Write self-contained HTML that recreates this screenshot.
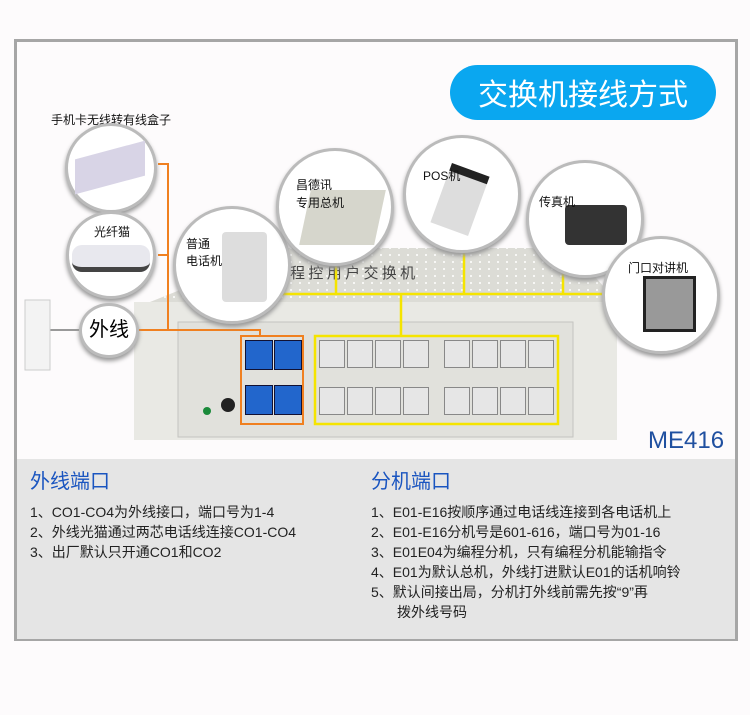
<!DOCTYPE html>
<html><head><meta charset="utf-8"><style>
body{margin:0;width:750px;height:715px;background:#fdfbfc;position:relative;overflow:hidden;font-family:"Liberation Sans","Noto Sans CJK SC",sans-serif}
.a{position:absolute}
.c{position:absolute;border-radius:50%;background:#fff;border:3px solid #bbb;box-shadow:0 3px 4px #999;box-sizing:border-box}
.t{position:absolute;font-size:12px;color:#111;white-space:nowrap;line-height:16px}
.jack{position:absolute;width:26px;height:28px;background:#e6e6e6;border:1px solid #888;box-sizing:border-box}
.bj{position:absolute;width:28px;height:30px;background:#2266cc;border:1px solid #113;box-sizing:border-box}
.li{position:absolute;font-size:14px;color:#222;white-space:nowrap}
</style></head><body>
<div class="a" style="left:14px;top:39px;width:724px;height:602px;border:3px solid #a6a6a6;box-sizing:border-box"></div>
<div class="a" style="left:17px;top:459px;width:718px;height:180px;background:#e5e5e5"></div>
<div class="a" style="left:450px;top:65px;width:266px;height:55px;border-radius:28px;background:#0aa7f0;color:#fff;font-size:30px;line-height:55px;text-align:center;font-family:'Noto Sans CJK SC',sans-serif">交换机接线方式</div>
<div class="t" style="left:51px;top:112px">手机卡无线转有线盒子</div>
<!-- device -->
<svg class="a" style="left:0;top:0" width="750" height="460">
<defs><pattern id="d" width="9" height="7" patternUnits="userSpaceOnUse"><circle cx="3" cy="3" r="1" fill="#fff"/></pattern></defs>
<polygon points="150,302 285,248 570,248 617,302" fill="#dcdcd6"/>
<polygon points="150,302 285,248 570,248 617,302" fill="url(#d)"/>
<rect x="134" y="302" width="483" height="138" fill="#e9e9e4"/>
<rect x="178" y="322" width="395" height="115" fill="#e1e1dc" stroke="#c4c4c0"/>
<text x="290" y="278" font-size="15" fill="#444" font-family="Noto Sans CJK SC">程 控 用 户 交 换 机</text>
<circle cx="207" cy="411" r="4" fill="#1a8a3a"/><circle cx="228" cy="405" r="7" fill="#222"/>
<rect x="241" y="336" width="62" height="88" fill="none" stroke="#f08020" stroke-width="2"/>
<rect x="315" y="336" width="243" height="88" fill="none" stroke="#f5e400" stroke-width="2.5"/>
<g stroke="#f08020" stroke-width="2" fill="none">
<polyline points="158,164 168,164 168,330"/><line x1="158" y1="255" x2="168" y2="255"/>
<polyline points="139,330 260,330 260,336"/></g>
<g stroke="#f5e400" stroke-width="2.5" fill="none">
<line x1="275" y1="294" x2="603" y2="294"/><line x1="336" y1="250" x2="336" y2="294"/>
<line x1="464" y1="238" x2="464" y2="294"/><line x1="563" y1="260" x2="563" y2="294"/>
<line x1="401" y1="294" x2="401" y2="336"/></g>
<line x1="50" y1="330" x2="80" y2="330" stroke="#999" stroke-width="2"/>
<rect x="25" y="300" width="25" height="70" fill="#f3f3f3" stroke="#ccc"/>
<text x="648" y="448" font-size="24" fill="#2050a0">ME416</text>
</svg>
<div class="bj" style="left:245px;top:340px"></div><div class="bj" style="left:274px;top:340px"></div>
<div class="bj" style="left:245px;top:385px"></div><div class="bj" style="left:274px;top:385px"></div>
<div class="jack" style="left:319px;top:340px"></div><div class="jack" style="left:347px;top:340px"></div><div class="jack" style="left:375px;top:340px"></div><div class="jack" style="left:403px;top:340px"></div>
<div class="jack" style="left:444px;top:340px"></div><div class="jack" style="left:472px;top:340px"></div><div class="jack" style="left:500px;top:340px"></div><div class="jack" style="left:528px;top:340px"></div>
<div class="jack" style="left:319px;top:387px"></div><div class="jack" style="left:347px;top:387px"></div><div class="jack" style="left:375px;top:387px"></div><div class="jack" style="left:403px;top:387px"></div>
<div class="jack" style="left:444px;top:387px"></div><div class="jack" style="left:472px;top:387px"></div><div class="jack" style="left:500px;top:387px"></div><div class="jack" style="left:528px;top:387px"></div>
<!-- circles -->
<div class="c" style="left:65px;top:123px;width:92px;height:90px"></div>
<div class="a" style="left:75px;top:150px;width:70px;height:35px;background:#d8d4e6;transform:skewY(-15deg)"></div>
<div class="c" style="left:66px;top:211px;width:90px;height:88px"></div>
<div class="t" style="left:94px;top:224px">光纤猫</div>
<div class="a" style="left:72px;top:245px;width:78px;height:22px;background:#e8e8ee;border-radius:10px;border-bottom:5px solid #444"></div>
<div class="c" style="left:79px;top:303px;width:60px;height:55px;font-size:20px;line-height:49px;text-align:center">外线</div>
<div class="c" style="left:173px;top:206px;width:118px;height:118px"></div>
<div class="a" style="left:222px;top:232px;width:45px;height:70px;background:#ddd;border-radius:4px"></div>
<div class="t" style="left:186px;top:236px;line-height:17px">普通<br>电话机</div>
<div class="c" style="left:276px;top:148px;width:118px;height:118px"></div>
<div class="a" style="left:305px;top:190px;width:75px;height:55px;background:#d6d6cc;transform:skewX(-12deg)"></div>
<div class="t" style="left:296px;top:176px;line-height:18px">昌德讯<br>专用总机</div>
<div class="c" style="left:403px;top:135px;width:118px;height:118px"></div>
<div class="a" style="left:440px;top:168px;width:40px;height:55px;background:#ddd;border-top:8px solid #222;transform:rotate(20deg)"></div>
<div class="t" style="left:423px;top:168px">POS机</div>
<div class="c" style="left:526px;top:160px;width:118px;height:118px"></div>
<div class="a" style="left:565px;top:205px;width:62px;height:40px;background:#333;border-radius:4px"></div>
<div class="t" style="left:539px;top:194px">传真机</div>
<div class="c" style="left:602px;top:236px;width:118px;height:118px"></div>
<div class="a" style="left:643px;top:276px;width:53px;height:56px;background:#999;border:3px solid #222;box-sizing:border-box"></div>
<div class="t" style="left:628px;top:260px">门口对讲机</div>
<!-- text -->
<div class="a" style="left:30px;top:465px;font-size:20px;color:#1a55c0">外线端口</div>
<div class="a" style="left:371px;top:465px;font-size:20px;color:#1a55c0">分机端口</div>
<div class="li" style="left:30px;top:502px">1、CO1-CO4为外线接口，端口号为1-4</div>
<div class="li" style="left:30px;top:522px">2、外线光猫通过两芯电话线连接CO1-CO4</div>
<div class="li" style="left:30px;top:542px">3、出厂默认只开通CO1和CO2</div>
<div class="li" style="left:371px;top:502px">1、E01-E16按顺序通过电话线连接到各电话机上</div>
<div class="li" style="left:371px;top:522px">2、E01-E16分机号是601-616，端口号为01-16</div>
<div class="li" style="left:371px;top:542px">3、E01E04为编程分机，只有编程分机能输指令</div>
<div class="li" style="left:371px;top:562px">4、E01为默认总机，外线打进默认E01的话机响铃</div>
<div class="li" style="left:371px;top:582px">5、默认间接出局，分机打外线前需先按“9”再</div>
<div class="li" style="left:397px;top:602px">拨外线号码</div>
</body></html>
